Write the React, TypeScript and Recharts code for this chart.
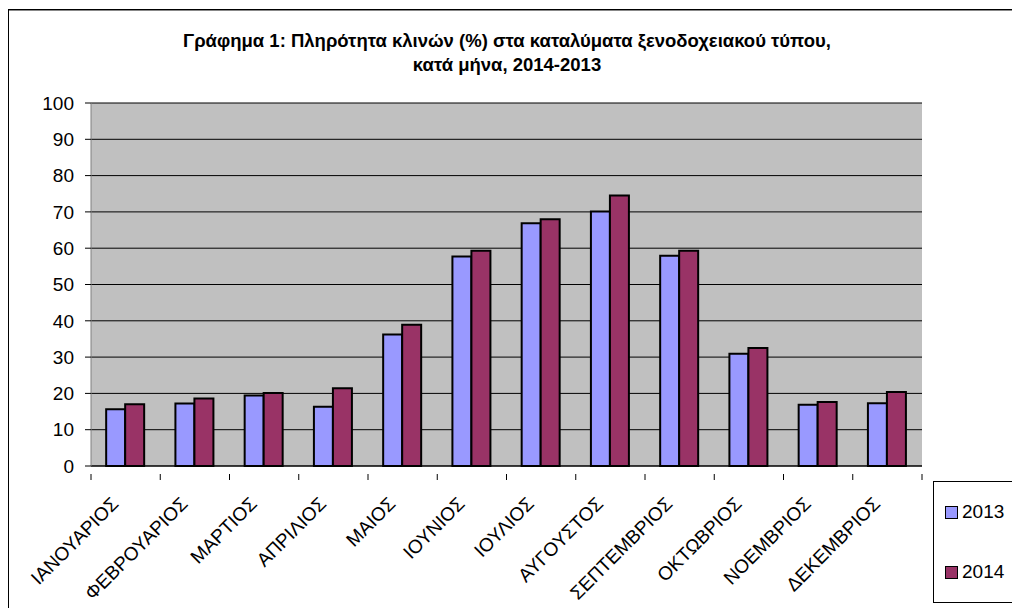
import * as React from 'react';
import { Bar, BarChart, CartesianGrid, XAxis, YAxis } from 'recharts';

// Bed occupancy (%) in hotel-type accommodation, by month
const months = [
    'ΙΑΝΟΥΑΡΙΟΣ',
    'ΦΕΒΡΟΥΑΡΙΟΣ',
    'ΜΑΡΤΙΟΣ',
    'ΑΠΡΙΛΙΟΣ',
    'ΜΑΙΟΣ',
    'ΙΟΥΝΙΟΣ',
    'ΙΟΥΛΙΟΣ',
    'ΑΥΓΟΥΣΤΟΣ',
    'ΣΕΠΤΕΜΒΡΙΟΣ',
    'ΟΚΤΩΒΡΙΟΣ',
    'ΝΟΕΜΒΡΙΟΣ',
    'ΔΕΚΕΜΒΡΙΟΣ',
];
const values2013 = [15.6, 17.2, 19.4, 16.3, 36.2, 57.7, 66.9, 70.1, 57.9, 30.9, 16.9, 17.3];
const values2014 = [17.0, 18.6, 20.1, 21.4, 38.9, 59.3, 68.0, 74.5, 59.3, 32.5, 17.6, 20.4];
const yTicks = [0, 10, 20, 30, 40, 50, 60, 70, 80, 90, 100];

const series = [
    { key: 'y2013', name: '2013', color: '#9999FF' },
    { key: 'y2014', name: '2014', color: '#993366' },
];

const FONT = 'Arial, "Liberation Sans", sans-serif';
const CHART_W = 1012;
const CHART_H = 600;
const MARGIN = { top: 95, right: 98, left: 0, bottom: 0 };
const Y_AXIS_W = 83;
const PLOT_W = CHART_W - MARGIN.right - MARGIN.left - Y_AXIS_W;
const BAND = PLOT_W / months.length;

interface TickProps {
    x?: number;
    y?: number;
    index?: number;
    payload?: { value: string };
}

// Excel style: tick marks on category boundaries, labels slanted 45 degrees
function MonthTick({ x = 0, y = 0, index = 0, payload }: TickProps) {
    const left = x - BAND / 2;
    const right = x + BAND / 2;
    const lx = x - 6;
    const ly = y + 31;
    return (
        <g>
            <line x1={left} y1={y} x2={left} y2={y + 6} stroke="#000" strokeWidth={1} />
            {index === months.length - 1 && <line x1={right} y1={y} x2={right} y2={y + 6} stroke="#000" strokeWidth={1} />}
            <text
                x={lx}
                y={ly}
                textAnchor="end"
                transform={`rotate(-45, ${lx}, ${ly})`}
                fontSize={19}
                fontFamily={FONT}
                fill="#000"
            >
                {payload?.value}
            </text>
        </g>
    );
}

export default function App() {
    const data = React.useMemo(
        () =>
            months.map((m, i) => ({
                month: m,
                y2013: values2013[i],
                y2014: values2014[i],
            })),
        [],
    );

    return (
        <div style={{ position: 'relative', width: CHART_W, height: CHART_H, overflow: 'hidden', fontFamily: FONT }}>
            {/* outer chart frame, runs off the right and bottom like the original */}
            <div
                style={{
                    position: 'absolute',
                    left: 0,
                    top: 1,
                    width: 1100,
                    height: 700,
                    border: '1px solid #000',
                    boxShadow: 'inset 0 1px 0 #888',
                }}
            />

            <div
                style={{
                    position: 'absolute',
                    left: 0,
                    top: 21,
                    width: 998,
                    textAlign: 'center',
                    fontSize: 18.5,
                    fontWeight: 'bold',
                    lineHeight: '23.5px',
                    color: '#000',
                }}
            >
                Γράφημα 1: Πληρότητα κλινών (%) στα καταλύματα ξενοδοχειακού τύπου,
                <br />
                κατά μήνα, 2014-2013
            </div>

            <div style={{ position: 'absolute', left: 0, top: 0 }}>
                <BarChart width={CHART_W} height={CHART_H} data={data} margin={MARGIN} barCategoryGap="21.9%" barGap={0}>
                    <CartesianGrid fill="#C0C0C0" fillOpacity={1} stroke="#000" strokeWidth={1} vertical={false} />
                    <XAxis
                        dataKey="month"
                        interval={0}
                        height={142}
                        tickLine={false}
                        axisLine={{ stroke: '#000', strokeWidth: 1 }}
                        tick={<MonthTick />}
                    />
                    <XAxis xAxisId="top" orientation="top" dataKey="month" height={0} tick={false} tickLine={false} axisLine={{ stroke: '#808080' }} />
                    <YAxis
                        domain={[0, 100]}
                        ticks={yTicks}
                        interval={0}
                        width={Y_AXIS_W}
                        tickSize={6}
                        tickMargin={11}
                        axisLine={{ stroke: '#808080' }}
                        tickLine={{ stroke: '#000' }}
                        tick={{ fontSize: 19, fontFamily: FONT, fill: '#000' }}
                    />
                    <YAxis yAxisId="right" orientation="right" domain={[0, 100]} width={0} tick={false} tickLine={false} axisLine={{ stroke: '#808080' }} />
                    {series.map((s) => (
                        <Bar
                            key={s.key}
                            dataKey={s.key}
                            name={s.name}
                            fill={s.color}
                            stroke="#000"
                            strokeWidth={2}
                            isAnimationActive={false}
                        />
                    ))}
                </BarChart>
            </div>

            {/* legend box */}
            <div
                style={{
                    position: 'absolute',
                    left: 925,
                    top: 473,
                    width: 80,
                    height: 122,
                    border: '1px solid #000',
                    boxSizing: 'border-box',
                    display: 'flex',
                    flexDirection: 'column',
                    justifyContent: 'space-around',
                    paddingLeft: 11,
                }}
            >
                {series.map((s) => (
                    <div key={s.key} style={{ display: 'flex', alignItems: 'center', fontSize: 19, color: '#000', lineHeight: '22px' }}>
                        <span
                            style={{
                                display: 'inline-block',
                                width: 11,
                                height: 11,
                                background: s.color,
                                border: '1px solid #000',
                                marginRight: 4,
                            }}
                        />
                        {s.name}
                    </div>
                ))}
            </div>
        </div>
    );
}
